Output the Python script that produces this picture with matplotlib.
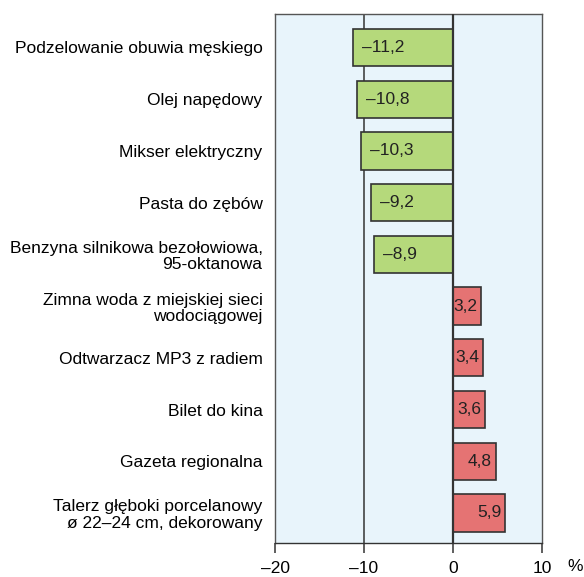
import matplotlib.pyplot as plt

plt.rcParams['font.family'] = ['Liberation Sans', 'DejaVu Sans']

categories = [
    'Podzelowanie obuwia męskiego',
    'Olej napędowy',
    'Mikser elektryczny',
    'Pasta do zębów',
    'Benzyna silnikowa bezołowiowa,\n95-oktanowa',
    'Zimna woda z miejskiej sieci\nwodociągowej',
    'Odtwarzacz MP3 z radiem',
    'Bilet do kina',
    'Gazeta regionalna',
    'Talerz głęboki porcelanowy\nø 22–24 cm, dekorowany',
]
values = [-11.2, -10.8, -10.3, -9.2, -8.9, 3.2, 3.4, 3.6, 4.8, 5.9]
xticks = [-20, -10, 0, 10]

green = '#b5d97b'
red = '#e57373'
bg = '#e8f4fb'

fig = plt.figure(figsize=(5.84, 5.77), dpi=100)
ax = fig.add_axes([0.471, 0.059, 0.457, 0.917])
ax.set_facecolor(bg)

ypos = list(range(len(values)))
colors = [green if v < 0 else red for v in values]
ax.barh(ypos, values, height=0.72, color=colors, edgecolor='#333333', linewidth=1.2, zorder=3)

ax.axvline(-10, color='#333333', lw=1.1, zorder=2)
ax.axvline(0, color='#333333', lw=1.6, zorder=4)

for y, v in zip(ypos, values):
    txt = f'{abs(v):.1f}'.replace('.', ',')
    if v < 0:
        ax.text(v + 1.0, y, '–' + txt, ha='left', va='center', fontsize=12.5, color='#222222', zorder=5)
    else:
        ax.text(v - 0.45, y, txt, ha='right', va='center', fontsize=12.5, color='#222222', zorder=5)

ax.set_xlim(-20, 10)
ax.set_ylim(len(values) - 0.42, -0.65)
ax.set_xticks(xticks)
ax.set_xticklabels([str(t).replace('-', '–') for t in xticks], fontsize=12.5)
ax.set_yticks(ypos)
ax.set_yticklabels(categories, fontsize=12.5, linespacing=1.1)
ax.tick_params(axis='y', length=0, pad=9)
ax.tick_params(axis='x', direction='out', length=7, width=1.1, pad=6, color='#333333')
for s in ax.spines.values():
    s.set_color('#555555')
    s.set_linewidth(1.0)
ax.spines['bottom'].set_color('#333333')

fig.text(0.998, 0.006, '%', fontsize=12.5, ha='right', va='bottom')

fig.savefig('out.png', dpi=100)
